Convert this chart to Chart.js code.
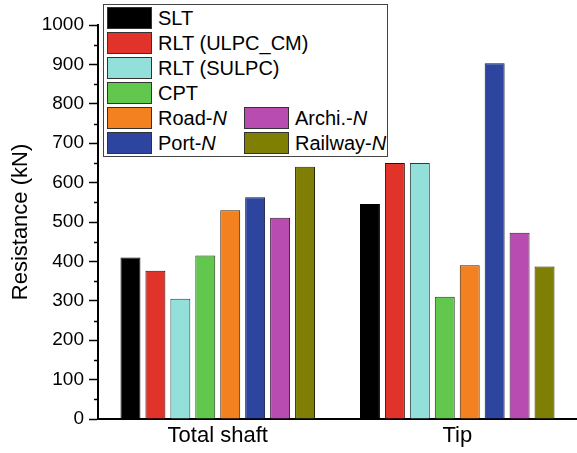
<!DOCTYPE html>
<html>
<head>
<meta charset="utf-8">
<script src="https://cdn.jsdelivr.net/npm/chart.js@4/dist/chart.umd.min.js"></script>
<style>
  html, body { margin: 0; padding: 0; background: #fff; }
  #wrap { position: relative; width: 577px; height: 453px; }
  #legend {
    position: absolute; left: 103px; top: 4px; width: 285px; height: 153px;
    border: 1px solid #444; background: #fff; box-sizing: border-box;
    font-family: "Liberation Sans", Arial, sans-serif; font-size: 20px; color: #000;
  }
  .item { position: absolute; height: 22px; line-height: 22px; white-space: nowrap; }
  .sw { position: absolute; left: 0; top: 0; width: 45px; height: 22px; box-sizing: border-box; border: 1px solid #333; }
  .lbl { position: absolute; left: 51px; top: 0; }
  .lbl i { font-style: italic; }
</style>
</head>
<body>
<div id="wrap">
  <canvas id="c" width="577" height="453"></canvas>
  <div id="legend"></div>
</div>
<script>
// Pile resistance by method: total shaft and tip
const categories = ['Total shaft', 'Tip'];
const seriesNames = ['SLT', 'RLT (ULPC_CM)', 'RLT (SULPC)', 'CPT', 'Road-N', 'Port-N', 'Archi.-N', 'Railway-N'];
const SLT = [410, 546];
const RLT_ULPC_CM = [376, 650];
const RLT_SULPC = [305, 650];
const CPT = [415, 310];
const RoadN = [530, 390];
const PortN = [563, 903];
const ArchiN = [511, 473];
const RailwayN = [640, 387];
const yTicks = [0, 100, 200, 300, 400, 500, 600, 700, 800, 900, 1000];

const seriesValues = [SLT, RLT_ULPC_CM, RLT_SULPC, CPT, RoadN, PortN, ArchiN, RailwayN];
const colors = ['#000000', '#E1332A', '#93E0DB', '#62C84D', '#F48120', '#2E45A0', '#B94CB0', '#7F7F05'];
const borders = ['#000000', '#3a0a06', '#2a3b3a', '#1f3a18', '#3a1e05', '#0d1330', '#3a1437', '#2a2a00'];

// Legend layout: first four entries in one column, the last four in two columns
const legendSlots = [
  [107, 7], [107, 32], [107, 57], [107, 82],
  [107, 107], [107, 132], [244, 107], [244, 132]
];
const legend = document.getElementById('legend');
seriesNames.forEach((name, i) => {
  const it = document.createElement('div');
  it.className = 'item';
  it.style.left = (legendSlots[i][0] - 104) + 'px';
  it.style.top = (legendSlots[i][1] - 5) + 'px';
  const sw = document.createElement('div');
  sw.className = 'sw';
  sw.style.background = colors[i];
  const lb = document.createElement('div');
  lb.className = 'lbl';
  if (name.endsWith('-N')) {
    lb.innerHTML = name.slice(0, -1) + '<i>N</i>';
  } else {
    lb.textContent = name;
  }
  it.appendChild(sw);
  it.appendChild(lb);
  legend.appendChild(it);
});

// Short minor ticks between the labelled major ticks
const minorTicks = {
  id: 'minorTicks',
  afterDraw(chart) {
    const y = chart.scales.y;
    const ctx = chart.ctx;
    const left = chart.chartArea.left;
    ctx.save();
    ctx.strokeStyle = '#000';
    ctx.lineWidth = 1.5;
    for (let v = 50; v < 1000; v += 100) {
      const py = Math.round(y.getPixelForValue(v)) + 0.5;
      ctx.beginPath();
      ctx.moveTo(left - 4, py);
      ctx.lineTo(left, py);
      ctx.stroke();
    }
    ctx.restore();
  }
};

const font = '"Liberation Sans", Arial, sans-serif';

new Chart(document.getElementById('c'), {
  type: 'bar',
  data: {
    labels: categories,
    datasets: seriesNames.map((name, i) => ({
      label: name,
      data: seriesValues[i],
      backgroundColor: colors[i],
      borderColor: borders[i],
      borderWidth: 1,
      categoryPercentage: 0.833,
      barPercentage: 0.8
    }))
  },
  options: {
    responsive: false,
    animation: false,
    layout: { padding: { top: 25, right: 0, left: 0, bottom: 0 } },
    plugins: { legend: { display: false }, tooltip: { enabled: false } },
    scales: {
      x: {
        afterFit(s) { s.height = 34; },
        grid: { display: false, drawTicks: false },
        border: { display: true, color: '#000', width: 2 },
        ticks: { color: '#000', font: { family: font, size: 22 }, padding: 4 }
      },
      y: {
        min: 0,
        max: 1000,
        afterFit(s) { s.width = 98; },
        afterBuildTicks(s) {
          s.ticks = [];
          for (let v = 0; v <= 1000; v += 50) s.ticks.push({ value: v });
        },
        grid: {
          display: true,
          drawOnChartArea: false,
          drawTicks: true,
          tickLength: 9,
          tickWidth: 1.5,
          tickColor: ctx => (ctx.tick && ctx.tick.value % 100 === 0) ? '#000' : 'rgba(0,0,0,0)'
        },
        border: { display: true, color: '#000', width: 2 },
        ticks: {
          color: '#000',
          font: { family: font, size: 19 },
          padding: 5,
          autoSkip: false,
          callback: v => yTicks.includes(v) ? String(v) : ''
        },
        title: {
          display: true,
          text: 'Resistance (kN)',
          color: '#000',
          font: { family: font, size: 22 },
          padding: { top: 8, bottom: 0 }
        }
      }
    }
  },
  plugins: [minorTicks]
});
</script>
</body>
</html>
